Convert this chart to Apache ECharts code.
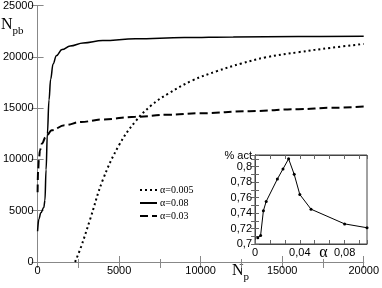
<!DOCTYPE html>
<html><head><meta charset="utf-8">
<script src="https://cdn.jsdelivr.net/npm/echarts@6/dist/echarts.min.js"></script>
<style>html,body{margin:0;padding:0;background:#fff}#c{width:382px;height:288px}</style>
</head><body><div id="c"></div>
<script>
// Main chart: N_pb versus N_p
const npDotted = [2300, 2670, 3210, 4000, 5000, 6000, 7000, 8000, 9500, 11000, 12500, 14000, 16000, 18000, 20000];
const nDotted  = [0, 1500, 4100, 8000, 11400, 13700, 15300, 16400, 17700, 18600, 19350, 19950, 20450, 20880, 21250];
const npSolid = [0, 80, 200, 380, 450, 520, 600, 700, 800, 950, 1150, 1500, 2000, 2800, 4000, 6000, 9000, 12000, 16000, 20000];
const nSolid  = [3000, 4200, 4800, 5300, 6000, 9000, 12500, 15800, 17800, 19300, 20100, 20700, 21050, 21350, 21580, 21750, 21870, 21930, 21980, 22010];
const npDashed = [0, 30, 80, 150, 270, 500, 870, 1650, 2670, 4000, 6000, 8000, 10000, 13000, 16000, 18000, 20000];
const nDashed  = [6800, 8800, 10000, 10900, 11550, 12200, 12840, 13330, 13650, 13900, 14150, 14350, 14500, 14700, 14900, 15030, 15150];
const seriesNames = ['α=0.005', 'α=0.08', 'α=0.03'];
// Inset: % act versus alpha
const alphaVals = [0.0025, 0.005, 0.0075, 0.01, 0.02, 0.025, 0.03, 0.035, 0.04, 0.05, 0.08, 0.1];
const actVals   = [0.708, 0.711, 0.743, 0.755, 0.784, 0.797, 0.810, 0.790, 0.764, 0.745, 0.726, 0.721];
const xTicksMain = [0, 5000, 10000, 15000, 20000];
const yTicksMain = [0, 5000, 10000, 15000, 20000, 25000];

const zip = (a, b) => a.map((v, i) => [v, b[i]]);
const fmtComma = v => v === 0 ? '0' : String(+v.toFixed(2)).replace('.', ',');
const fmtPlain = v => String(v);
const LBL = {color: '#000', fontSize: 11, fontFamily: 'Liberation Sans, Arial, sans-serif'};
const LINE = {lineStyle: {color: '#444', width: 1}};
const TICK = {inside: true, length: 6, lineStyle: {color: '#888'}};

const chart = echarts.init(document.getElementById('c'), null, {renderer: 'canvas'});
chart.setOption({
  animation: false,
  backgroundColor: '#fff',
  grid: [
    {left: 33, right: 15, top: 5, bottom: 26},
    {left: 255, right: 15, top: 155, bottom: 44, show: true, backgroundColor: '#fff', borderColor: '#444', borderWidth: 1, z: 5}
  ],
  xAxis: [
    {gridIndex: 0, type: 'value', min: xTicksMain[0], max: xTicksMain[xTicksMain.length - 1], interval: 5000, position: 'bottom',
     axisLine: LINE, axisTick: TICK, minorTick: {show: true, splitNumber: 2, length: 3, lineStyle: {color: '#888'}},
     splitLine: {show: false}, axisLabel: Object.assign({margin: 3, formatter: fmtPlain}, LBL)},
    {gridIndex: 0, type: 'value', min: 0, max: 20000, interval: 2500, position: 'top',
     axisLine: {lineStyle: {color: '#888', width: 1}}, axisTick: TICK, splitLine: {show: false}, axisLabel: {show: false}},
    {gridIndex: 1, type: 'value', min: 0, max: 0.1, interval: 0.04, position: 'bottom', z: 6,
     axisLine: LINE, axisTick: {inside: true, length: 4, lineStyle: {color: '#666'}},
     minorTick: {show: true, splitNumber: 3, length: 4, lineStyle: {color: '#666'}},
     splitLine: {show: false}, axisLabel: Object.assign({margin: 3, formatter: fmtComma, showMaxLabel: false}, LBL),
     name: 'α', nameLocation: 'middle', nameGap: 1, nameMoveOverlap: false,
     nameTextStyle: {fontFamily: 'Liberation Serif, serif', fontSize: 16, color: '#000', verticalAlign: 'top', padding: [0, 0, 0, 25]}},
    {gridIndex: 1, type: 'value', min: 0, max: 0.1, interval: 0.04, position: 'top', z: 6,
     axisLine: LINE, axisTick: {inside: true, length: 4, lineStyle: {color: '#666'}},
     minorTick: {show: true, splitNumber: 3, length: 4, lineStyle: {color: '#666'}},
     splitLine: {show: false}, axisLabel: {show: false}}
  ],
  yAxis: [
    {gridIndex: 0, type: 'value', min: yTicksMain[0], max: yTicksMain[yTicksMain.length - 1], interval: 5000, position: 'left',
     axisLine: {show: true, lineStyle: {color: '#444', width: 1}}, axisTick: {show: true, inside: true, length: 6, lineStyle: {color: '#888'}},
     splitLine: {show: false}, axisLabel: Object.assign({margin: 4, formatter: fmtPlain}, LBL)},
    {gridIndex: 0, type: 'value', min: 0, max: 25000, interval: 5000, position: 'right',
     axisLine: {show: true, lineStyle: {color: '#888', width: 1}}, axisTick: {show: true, inside: true, length: 6, lineStyle: {color: '#888'}},
     splitLine: {show: false}, axisLabel: {show: false}},
    {gridIndex: 1, type: 'value', min: 0.7, max: 0.815, interval: 0.02, position: 'left', z: 6,
     axisLine: {show: true, lineStyle: {color: '#444', width: 1}}, axisTick: {show: true, inside: true, length: 4, lineStyle: {color: '#666'}},
     minorTick: {show: true, splitNumber: 2, length: 4, lineStyle: {color: '#666'}},
     splitLine: {show: false}, axisLabel: Object.assign({margin: 3, formatter: fmtComma, showMaxLabel: false}, LBL),
     name: '% act', nameLocation: 'end', nameGap: -6,
     nameTextStyle: {fontFamily: 'Liberation Sans, Arial, sans-serif', fontSize: 11, color: '#000', align: 'right', padding: [0, 3, 0, 0]}},
    {gridIndex: 1, type: 'value', min: 0.7, max: 0.815, interval: 0.02, position: 'right', z: 6,
     axisLine: {show: true, lineStyle: {color: '#444', width: 1}}, axisTick: {show: true, inside: true, length: 4, lineStyle: {color: '#666'}},
     minorTick: {show: true, splitNumber: 2, length: 4, lineStyle: {color: '#666'}},
     splitLine: {show: false}, axisLabel: {show: false}}
  ],
  legend: {
    orient: 'vertical', left: 134, top: 180, itemWidth: 17, itemHeight: 8, itemGap: 3,
    data: seriesNames, itemStyle: {opacity: 0},
    textStyle: {fontFamily: 'Liberation Serif, serif', fontSize: 10, color: '#000', padding: [0, 0, 0, -2]}
  },
  graphic: [
    {type: 'text', left: 1, top: 17, style: {text: '{a|N}{b|pb}', rich: {
      a: {fontFamily: 'Liberation Serif, serif', fontSize: 16, fill: '#000', verticalAlign: 'bottom'},
      b: {fontFamily: 'Liberation Serif, serif', fontSize: 11, fill: '#000', verticalAlign: 'bottom', padding: [0, 0, -4, 0]}}}},
    {type: 'text', left: 232, top: 263, style: {text: '{a|N}{b|p}', rich: {
      a: {fontFamily: 'Liberation Serif, serif', fontSize: 16, fill: '#000', verticalAlign: 'bottom'},
      b: {fontFamily: 'Liberation Serif, serif', fontSize: 11, fill: '#000', verticalAlign: 'bottom', padding: [0, 0, -4, 0]}}}}
  ],
  series: [
    {name: seriesNames[0], type: 'line', xAxisIndex: 0, yAxisIndex: 0, data: zip(npDotted, nDotted), symbol: 'none',
     smooth: 0.4, lineStyle: {color: '#000', width: 2, type: [2, 3]}, itemStyle: {color: '#000'}},
    {name: seriesNames[1], type: 'line', xAxisIndex: 0, yAxisIndex: 0, data: zip(npSolid, nSolid), symbol: 'none',
     smooth: 0.4, smoothMonotone: 'x', lineStyle: {color: '#000', width: 1.5}, itemStyle: {color: '#000'}},
    {name: seriesNames[2], type: 'line', xAxisIndex: 0, yAxisIndex: 0, data: zip(npDashed, nDashed), symbol: 'none',
     smooth: 0.4, smoothMonotone: 'x', lineStyle: {color: '#000', width: 2, type: [8, 4]}, itemStyle: {color: '#000'}},
    {name: 'act', type: 'line', xAxisIndex: 2, yAxisIndex: 2, data: zip(alphaVals, actVals), z: 10,
     symbol: 'circle', symbolSize: 3, lineStyle: {color: '#000', width: 1}, itemStyle: {color: '#000'}}
  ]
});
</script></body></html>
